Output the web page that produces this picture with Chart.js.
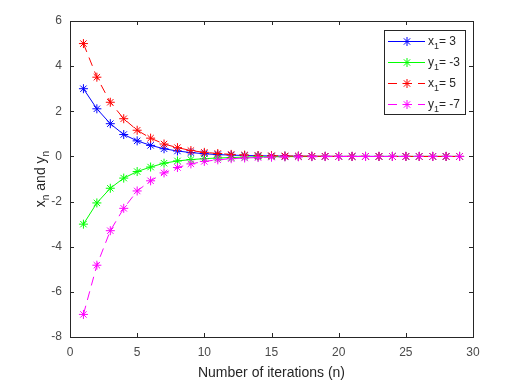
<!DOCTYPE html>
<html>
<head>
<meta charset="utf-8">
<script src="https://cdn.jsdelivr.net/npm/chart.js@4/dist/chart.umd.min.js"></script>
<style>
  html, body { margin: 0; padding: 0; background: #fff; }
  #wrap { width: 526px; height: 382px; position: relative; }
</style>
</head>
<body>
<div id="wrap"><canvas id="chart"></canvas></div>
<script>
// iterations 1..29
const iterations = [1,2,3,4,5,6,7,8,9,10,11,12,13,14,15,16,17,18,19,20,21,22,23,24,25,26,27,28,29];

// values
const xSmall = [3, 2.11, 1.45, 0.97, 0.69, 0.49, 0.34, 0.24, 0.17, 0.12, 0.08, 0.06, 0.04, 0.03, 0.02, 0.015, 0.01, 0.007, 0.005, 0.003, 0.002, 0.002, 0.001, 0.001, 0, 0, 0, 0, 0];
const ySmall = [-3, -2.06, -1.41, -0.96, -0.67, -0.47, -0.3, -0.2, -0.14, -0.1, -0.07, -0.05, -0.03, -0.02, -0.015, -0.01, -0.007, -0.005, -0.003, -0.002, -0.002, -0.001, -0.001, 0, 0, 0, 0, 0, 0];
const xBig = [5, 3.51, 2.4, 1.67, 1.16, 0.81, 0.55, 0.39, 0.26, 0.18, 0.13, 0.09, 0.06, 0.04, 0.03, 0.02, 0.015, 0.01, 0.007, 0.005, 0.003, 0.002, 0.002, 0.001, 0.001, 0, 0, 0, 0];
const yBig = [-7, -4.82, -3.29, -2.3, -1.53, -1.08, -0.73, -0.49, -0.33, -0.22, -0.15, -0.1, -0.07, -0.05, -0.03, -0.02, -0.015, -0.01, -0.007, -0.005, -0.003, -0.002, -0.002, -0.001, -0.001, 0, 0, 0, 0];

const seriesNames = ['x', 'y', 'x', 'y'];
const seriesStart = ['3', '-3', '5', '-7'];

const xTicks = [0, 5, 10, 15, 20, 25, 30];
const yTicks = [-8, -6, -4, -2, 0, 2, 4, 6];

const FONT = '"Liberation Sans", Arial, sans-serif';
const TXT = '#4a4a4a';

function series(vals) {
  return vals.map((v, i) => ({ x: iterations[i], y: v }));
}

function makeSet(vals, color, dash, order) {
  return {
    data: series(vals),
    order: order,
    borderColor: color,
    backgroundColor: color,
    borderWidth: 1,
    borderDash: dash,
    pointStyle: 'star',
    pointRadius: 4.5,
    pointBorderWidth: 1,
    pointBorderColor: color,
    tension: 0,
    fill: false
  };
}

const boxPlugin = {
  id: 'matlabBox',
  afterDraw(chart) {
    const ctx = chart.ctx;
    const a = chart.chartArea;
    const xs = chart.scales.x, ys = chart.scales.y;
    ctx.save();
    ctx.strokeStyle = '#262626';
    ctx.lineWidth = 1;
    ctx.strokeRect(Math.round(a.left) + 0.5, Math.round(a.top) + 0.5,
      Math.round(a.right - a.left), Math.round(a.bottom - a.top));
    // inward ticks on all four sides
    ctx.beginPath();
    xTicks.forEach(t => {
      const px = Math.round(xs.getPixelForValue(t)) + 0.5;
      ctx.moveTo(px, a.bottom); ctx.lineTo(px, a.bottom - 4);
      ctx.moveTo(px, a.top); ctx.lineTo(px, a.top + 4);
    });
    yTicks.forEach(t => {
      const py = Math.round(ys.getPixelForValue(t)) + 0.5;
      ctx.moveTo(a.left, py); ctx.lineTo(a.left + 4, py);
      ctx.moveTo(a.right, py); ctx.lineTo(a.right - 4, py);
    });
    ctx.stroke();

    // y axis title with subscripts
    ctx.fillStyle = '#262626';
    ctx.translate(41, (a.top + a.bottom) / 2);
    ctx.rotate(-Math.PI / 2);
    const parts = [['x', 0], ['n', 1], [' and y', 0], ['n', 1]];
    let total = 0;
    parts.forEach(p => {
      ctx.font = (p[1] ? '10px ' : '14px ') + FONT;
      total += ctx.measureText(p[0]).width;
    });
    let cx = -total / 2;
    ctx.textBaseline = 'alphabetic';
    ctx.textAlign = 'left';
    parts.forEach(p => {
      ctx.font = (p[1] ? '10px ' : '14px ') + FONT;
      ctx.fillText(p[0], cx, p[1] ? 8 : 4);
      cx += ctx.measureText(p[0]).width;
    });
    ctx.restore();

    // legend box
    ctx.save();
    const lx = 384.5, ly = 30.5, lw = 81, lh = 84;
    ctx.fillStyle = '#fff';
    ctx.fillRect(lx, ly, lw, lh);
    ctx.strokeStyle = '#262626';
    ctx.lineWidth = 1;
    ctx.strokeRect(lx, ly, lw, lh);
    const rows = [41, 62, 83, 104];
    const ordered = [0, 1, 2, 3];
    ordered.forEach(i => {
      const ds = chart.data.datasets[i];
      const yy = rows[i] + 0.5;
      ctx.strokeStyle = ds.borderColor;
      ctx.lineWidth = 1;
      ctx.setLineDash(ds.borderDash || []);
      ctx.beginPath();
      ctx.moveTo(388, yy); ctx.lineTo(425, yy);
      ctx.stroke();
      ctx.setLineDash([]);
      Chart.helpers.drawPoint(ctx, { pointStyle: 'star', radius: 4.5, borderWidth: 1 }, 407, yy);
      ctx.fillStyle = '#262626';
      ctx.textBaseline = 'middle';
      ctx.textAlign = 'left';
      ctx.font = '12px ' + FONT;
      ctx.fillText(seriesNames[i], 428, yy);
      let w = ctx.measureText(seriesNames[i]).width;
      ctx.font = '9px ' + FONT;
      ctx.fillText('1', 428 + w, yy + 5);
      w += ctx.measureText('1').width;
      ctx.font = '12px ' + FONT;
      ctx.fillText('= ' + seriesStart[i], 428 + w, yy);
    });
    ctx.restore();
  }
};

new Chart(document.getElementById('chart'), {
  type: 'line',
  data: {
    datasets: [
      makeSet(xSmall, '#0000ff', [], 4),
      makeSet(ySmall, '#00ff00', [], 3),
      makeSet(xBig, '#ff0000', [9, 6], 2),
      makeSet(yBig, '#ff00ff', [9, 6], 1)
    ]
  },
  options: {
    responsive: true,
    maintainAspectRatio: false,
    animation: false,
    layout: { padding: { left: 0, right: 53, top: 21, bottom: 0 } },
    plugins: {
      legend: { display: false },
      tooltip: { enabled: false }
    },
    scales: {
      x: {
        type: 'linear',
        min: 0, max: 30,
        afterBuildTicks: s => { s.ticks = xTicks.map(v => ({ value: v })); },
        afterFit: s => { s.height = 45; },
        grid: { display: false, drawTicks: false },
        border: { display: false },
        ticks: { color: TXT, font: { family: FONT, size: 12 }, padding: 8, maxRotation: 0 },
        title: { display: true, text: 'Number of iterations (n)', color: '#262626',
          font: { family: FONT, size: 14 }, padding: { top: 0, bottom: 0 } }
      },
      y: {
        type: 'linear',
        min: -8, max: 6,
        afterBuildTicks: s => { s.ticks = yTicks.map(v => ({ value: v })); },
        afterFit: s => { s.width = 70; },
        grid: { display: false, drawTicks: false },
        border: { display: false },
        ticks: { color: TXT, font: { family: FONT, size: 12 }, padding: 8 }
      }
    }
  },
  plugins: [boxPlugin]
});
</script>
</body>
</html>
